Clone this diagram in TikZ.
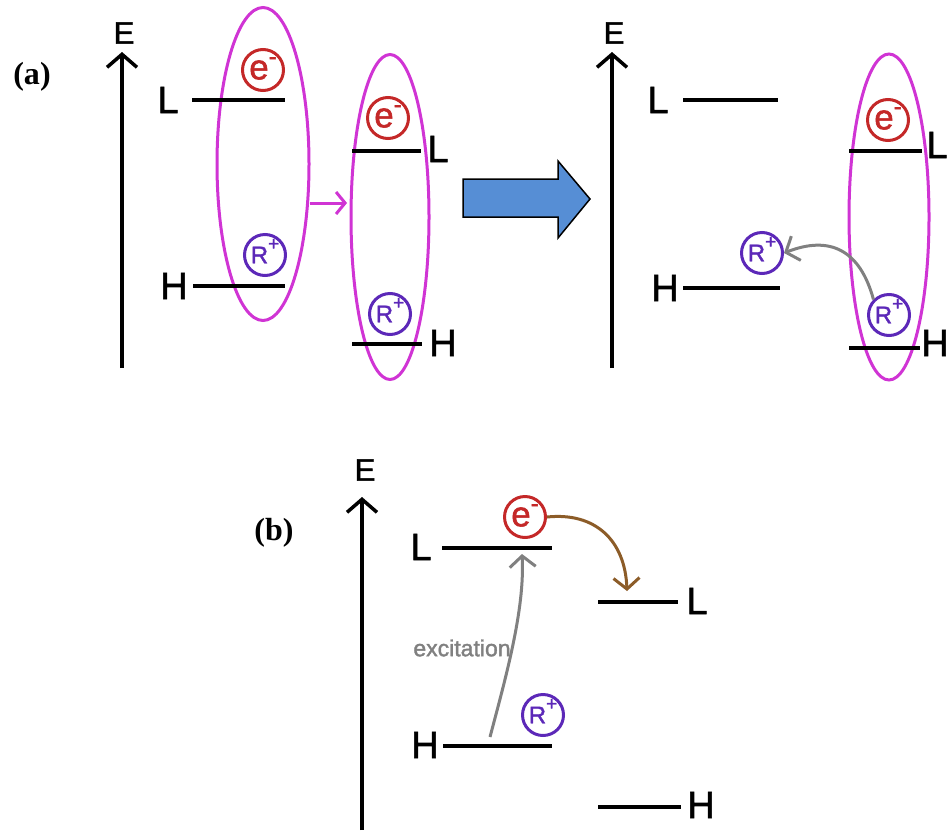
\documentclass[tikz,border=0pt]{standalone}
\usepackage{fontspec}
\setmainfont{Liberation Sans}
\newfontfamily\lblfont{Liberation Sans}[BoldFont={Liberation Sans}, BoldFeatures={FakeBold=1.6}]
\newfontfamily\serifb{Liberation Serif}
\usetikzlibrary{arrows.meta,shapes.geometric}
\definecolor{mag}{RGB}{208,52,212}
\definecolor{ered}{RGB}{196,40,40}
\definecolor{hpur}{RGB}{92,40,184}
\definecolor{garr}{RGB}{128,128,128}
\definecolor{brn}{RGB}{140,92,40}
\definecolor{blk}{RGB}{86,142,213}
\newcommand{\elec}{e\smash{\raisebox{0.42em}{\fontsize{24}{24}\selectfont -}}}
\newcommand{\hol}{R\smash{\raisebox{0.55em}{\fontsize{19}{19}\selectfont +}}}
\tikzset{
 lvl/.style={line width=3.5pt},
 axisline/.style={line width=3.5pt, -{Straight Barb[length=13pt,width=30pt,line width=3.5pt]}},
 grp/.style={ellipse, draw=mag, line width=3pt, inner sep=0pt},
 elec/.style={circle, draw=ered, line width=3pt, minimum size=41pt, inner sep=0pt, text=ered, font=\lblfont\bfseries\fontsize{35}{35}\selectfont},
 hole/.style={circle, draw=hpur, line width=3pt, minimum size=41pt, inner sep=0pt, text=hpur, font=\lblfont\bfseries\fontsize{24}{24}\selectfont},
 lab/.style={font=\lblfont\bfseries\fontsize{38}{38}\selectfont, inner sep=0pt},
 elab/.style={font=\lblfont\bfseries\fontsize{31}{31}\selectfont, inner sep=0pt},
 plab/.style={font=\serifb\bfseries\fontsize{32}{32}\selectfont, inner sep=0pt},
 garrow/.style={draw=garr, line width=3pt, -{Straight Barb[length=11pt,width=26pt,line width=3pt]}},
 marrow/.style={draw=mag, line width=3pt, -{Straight Barb[length=9pt,width=22pt,line width=3pt]}},
 barrow/.style={draw=brn, line width=3pt, -{Straight Barb[length=11pt,width=26pt,line width=3pt]}},
}
\begin{document}
\begin{tikzpicture}[x=1pt,y=-1pt]
\useasboundingbox (0,0) rectangle (949,830);
% panel labels
\node[plab] (pa) at (32,77) {(a)};
\node[plab] (pb) at (274,533) {(b)};

% ===== (a) left =====
\coordinate (ax1b) at (122,368);
\coordinate (ax1t) at (122,52);
\draw[axisline] (ax1b) -- (ax1t);
\node[elab] (E1) at (124,33) {E};
\node[grp, minimum width=92pt, minimum height=313pt] (g1) at (263,164) {};
\node[grp, minimum width=78pt, minimum height=325pt] (g2) at (390,217) {};
\coordinate (l1a) at (192,100); \coordinate (l1b) at (285,100);
\draw[lvl] (l1a) -- (l1b);
\node[lab] (L1) at (168,100) {L};
\coordinate (h1a) at (193,286); \coordinate (h1b) at (285,286);
\draw[lvl] (h1a) -- (h1b);
\node[lab] (H1) at (174,286) {H};
\node[elec] (e1) at (263,70) {\elec};
\node[hole] (r1) at (265,255) {\hol};
\coordinate (m1) at (310,203); \coordinate (m2) at (347,203);
\draw[marrow] (m1) -- (m2);
\coordinate (l2a) at (352,151); \coordinate (l2b) at (421,151);
\draw[lvl] (l2a) -- (l2b);
\node[lab] (L2) at (438,149) {L};
\coordinate (h2a) at (352,344); \coordinate (h2b) at (422,344);
\draw[lvl] (h2a) -- (h2b);
\node[lab] (H2) at (443,343) {H};
\node[elec] (e2) at (388,118) {\elec};
\node[hole] (r2) at (390,314) {\hol};

% block arrow
\draw[fill=blk, draw=black, line width=1.5pt, line join=miter]
 (463,179) -- (558,179) -- (558,161) -- (590,199) -- (558,238) -- (558,217) -- (463,217) -- cycle;

% ===== (a) right =====
\coordinate (ax2b) at (612,368);
\coordinate (ax2t) at (612,52);
\draw[axisline] (ax2b) -- (ax2t);
\node[elab] (E2) at (614,33) {E};
\coordinate (l3a) at (683,100); \coordinate (l3b) at (778,100);
\draw[lvl] (l3a) -- (l3b);
\node[lab] (L3) at (658,100) {L};
\coordinate (h3a) at (683,288); \coordinate (h3b) at (780,288);
\draw[lvl] (h3a) -- (h3b);
\node[lab] (H3) at (665,288) {H};
\node[hole] (r3) at (762,253) {\hol};
\node[grp, minimum width=80pt, minimum height=326pt] (g3) at (889,217) {};
\coordinate (l4a) at (849,151); \coordinate (l4b) at (922,151);
\draw[lvl] (l4a) -- (l4b);
\node[lab] (L4) at (937,145) {L};
\coordinate (h4a) at (849,348); \coordinate (h4b) at (920,348);
\draw[lvl] (h4a) -- (h4b);
\node[lab] (H4) at (935,343) {H};
\node[elec] (e3) at (888,120) {\elec};
\node[hole] (r4) at (889,315) {\hol};
\draw[garrow] (r4.north west) .. controls (860,250) and (830,235) .. (r3.east);

% ===== (b) =====
\coordinate (ax3b) at (362,830);
\coordinate (ax3t) at (362,497);
\draw[axisline] (ax3b) -- (ax3t);
\node[elab] (E3) at (365,470) {E};
\coordinate (l5a) at (442,548); \coordinate (l5b) at (552,548);
\draw[lvl] (l5a) -- (l5b);
\node[lab] (L5) at (421,547) {L};
\coordinate (h5a) at (443,746); \coordinate (h5b) at (552,746);
\draw[lvl] (h5a) -- (h5b);
\node[lab] (H5) at (425,745) {H};
\node[elec] (e4) at (525,517) {\elec};
\node[hole] (r5) at (543,715) {\hol};
\coordinate (l6a) at (598,602); \coordinate (l6b) at (678,602);
\draw[lvl] (l6a) -- (l6b);
\node[lab] (L6) at (697,601) {L};
\coordinate (h6a) at (598,807); \coordinate (h6b) at (681,807);
\draw[lvl] (h6a) -- (h6b);
\node[lab] (H6) at (701,805) {H};
\coordinate (xs) at (490,737);
\coordinate (xt) at (522,554);
\draw[garrow] (xs) .. controls (505,680) and (525,610) .. (xt);
\node[text=garr, font=\lblfont\bfseries\fontsize{23}{23}\selectfont, inner sep=0pt] (exc) at (462,648) {excitation};
\coordinate (bt) at (627,591);
\draw[barrow] (e4.east) .. controls (595,512) and (625,540) .. (bt);
\end{tikzpicture}
\end{document}
